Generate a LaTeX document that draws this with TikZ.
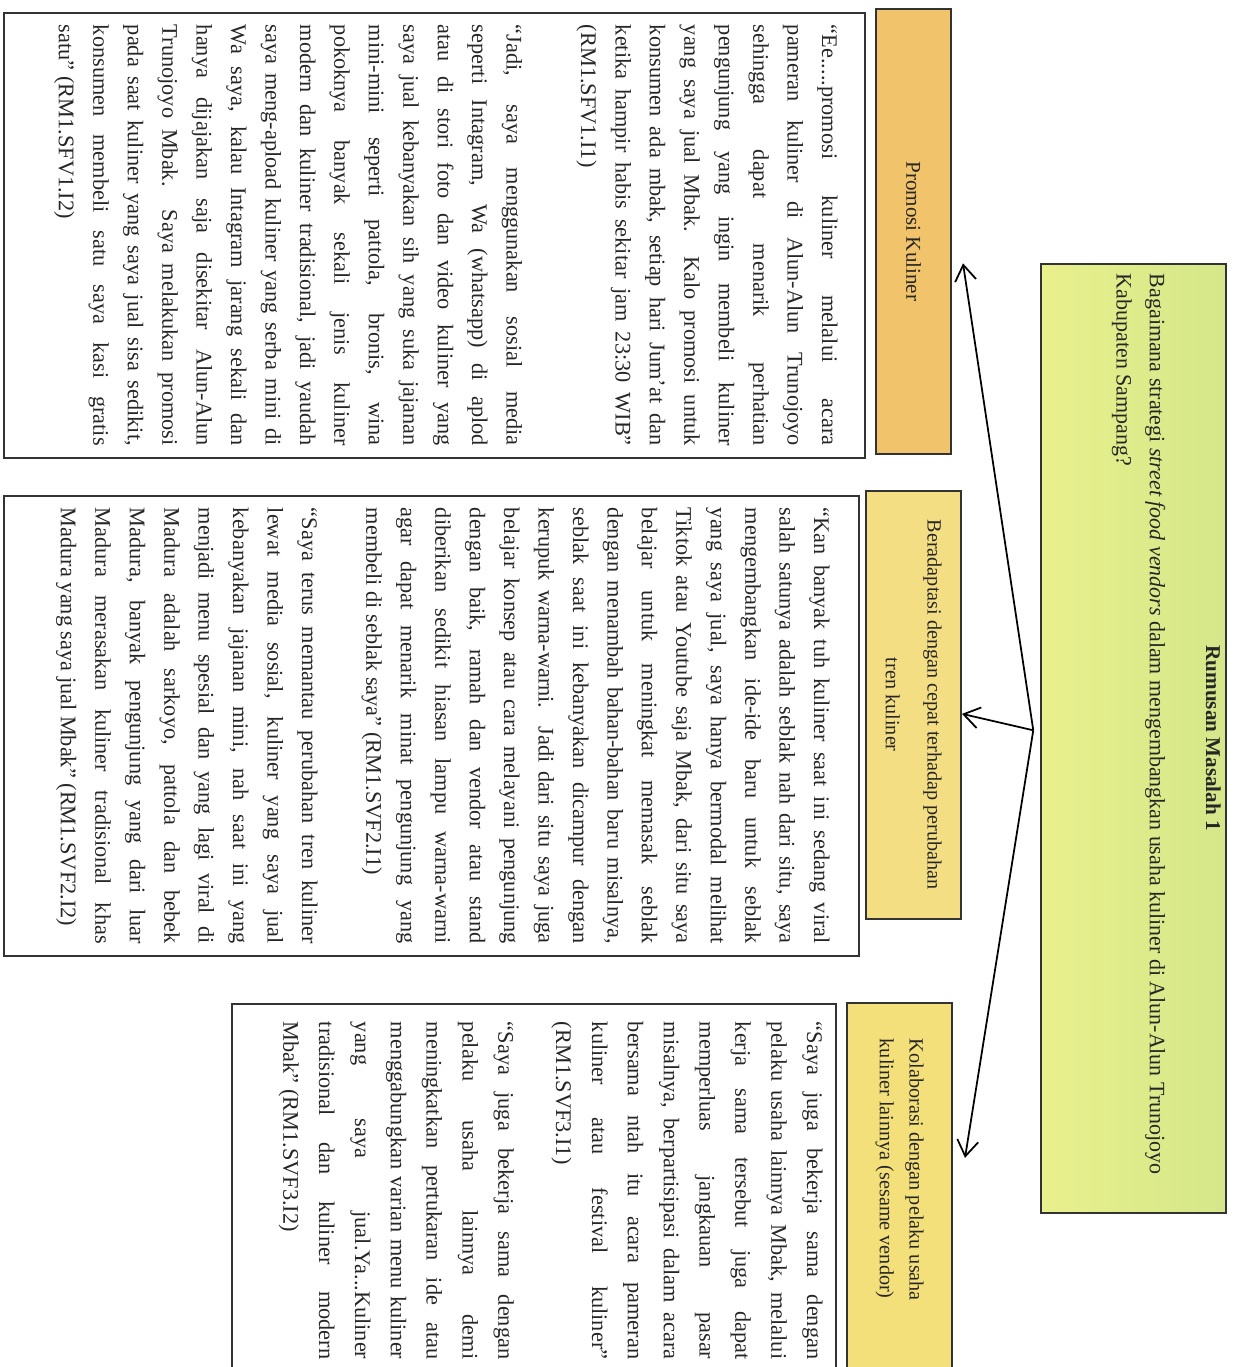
\documentclass[tikz,border=0pt]{standalone}
\usepackage{fontspec}
\setmainfont{Liberation Serif}
\usetikzlibrary{arrows.meta,calc}
\definecolor{hijau}{HTML}{D4E78A}
\definecolor{hijaumuda}{HTML}{E9F08C}
\definecolor{jingga}{HTML}{F1C46C}
\definecolor{kuning}{HTML}{F4DE84}
\definecolor{kuningtua}{HTML}{F3E07A}
\setlength\parindent{0pt}
\newcommand\jl[1]{\makebox[\linewidth][s]{\spaceskip=0pt\xspaceskip=0pt #1}\\}

\begin{document}
\begin{tikzpicture}[x=0.02cm,y=0.02cm,
  kotak/.style={draw=black!80,line width=1pt,anchor=north west,inner xsep=0.24cm,text=black!85},
  kutip/.style={kotak,fill=white,align=justify,text height=0.32cm,font=\fontsize{12.7}{19.6}\selectfont},
  judul/.style={kotak,align=center,font=\fontsize{11.5}{17}\selectfont},
  panah/.style={line width=1pt,-{Straight Barb[length=9pt,width=12pt]}}]
\begin{scope}[rotate=-90,transform shape]
\path[fill=white,use as bounding box] (0,0) rectangle (1367,1252);

\node[kotak,left color=hijaumuda,right color=hijau,text width=18.58cm,inner xsep=0.2cm,inner ysep=0.08cm,text height=0.32cm,text depth=3.22cm,align=justify,font=\fontsize{12.5}{19}\selectfont] (masalah) at (263,1227)
{\makebox[\linewidth]{\fontsize{12}{19}\selectfont\bfseries Rumusan Masalah 1}\\[13pt]
Bagaimana strategi \textit{street food vendors} dalam mengembangkan usaha kuliner di Alun-Alun Trunojoyo\\
Kabupaten Sampang?};

\node[judul,fill=jingga,minimum width=8.9cm,minimum height=1.5cm,font=\fontsize{12}{17}\selectfont] (promosi) at (8,952) {Promosi Kuliner};
\node[judul,fill=kuning,minimum width=8.56cm,minimum height=1.9cm,font=\fontsize{11.5}{23.8}\selectfont] (adaptasi) at (490,962) {Beradaptasi dengan cepat terhadap perubahan\\tren kuliner};
\node[judul,fill=kuningtua,align=justify,text width=6.12cm,inner xsep=0.72cm,minimum height=2.1cm] (kolaborasi) at (1002,953) {Kolaborasi dengan pelaku usaha\\kuliner lainnya (sesame vendor)};

\node[kutip,text width=8.42cm,inner ysep=0.54cm,text depth=15.82cm] (kutip1) at (12,866) {%
\jl{“Ee.....promosi kuliner melalui acara}
\jl{pameran kuliner di Alun-Alun Trunojoyo}
\jl{sehingga dapat menarik perhatian}
\jl{pengunjung yang ingin membeli kuliner}
\jl{yang saya jual Mbak. Kalo promosi untuk}
\jl{konsumen ada mbak, setiap hari Jum’at dan}
\jl{ketika hampir habis sekitar jam 23:30 WIB”}
(RM1.SFV1.I1)\\[0.8cm]
\jl{“Jadi, saya menggunakan sosial media}
\jl{seperti Intagram, Wa (whatsapp) di aplod}
\jl{atau di stori foto dan video kuliner yang}
\jl{saya jual kebanyakan sih yang suka jajanan}
\jl{mini-mini seperti pattola, bronis, wina}
\jl{pokoknya banyak sekali jenis kuliner}
\jl{modern dan kuliner tradisional, jadi yaudah}
\jl{saya meng-apload kuliner yang serba mini di}
\jl{Wa saya, kalau Intagram jarang sekali dan}
\jl{hanya dijajakan saja disekitar Alun-Alun}
\jl{Trunojoyo Mbak. Saya melakukan promosi}
\jl{pada saat kuliner yang saya jual sisa sedikit,}
\jl{konsumen membeli satu saya kasi gratis}
satu” (RM1.SFV1.I2)};

\node[kutip,text width=8.72cm,inner ysep=0.58cm,text depth=15.62cm] (kutip2) at (495,860) {%
\jl{“Kan banyak tuh kuliner saat ini sedang viral}
\jl{salah satunya adalah seblak nah dari situ, saya}
\jl{mengembangkan ide-ide baru untuk seblak}
\jl{yang saya jual, saya hanya bermodal melihat}
\jl{Tiktok atau Youtube saja Mbak, dari situ saya}
\jl{belajar untuk meningkat memasak seblak}
\jl{dengan menambah bahan-bahan baru misalnya,}
\jl{seblak saat ini kebanyakan dicampur dengan}
\jl{kerupuk warna-warni. Jadi dari situ saya juga}
\jl{belajar konsep atau cara melayani pengunjung}
\jl{dengan baik, ramah dan vendor atau stand}
\jl{diberikan sedikit hiasan lampu warna-warni}
\jl{agar dapat menarik minat pengunjung yang}
membeli di seblak saya” (RM1.SVF2.I1)\\[0.6cm]
\jl{“Saya terus memantau perubahan tren kuliner}
\jl{lewat media sosial, kuliner yang saya jual}
\jl{kebanyakan jajanan mini, nah saat ini yang}
\jl{menjadi menu spesial dan yang lagi viral di}
\jl{Madura adalah sarkoyo, pattola dan bebek}
\jl{Madura, banyak pengunjung yang dari luar}
\jl{Madura merasakan kuliner tradisional khas}
Madura yang saya jual Mbak” (RM1.SVF2.I2)};

\node[kutip,text width=6.75cm,inner xsep=0.36cm,inner ysep=0.26cm,text depth=11.24cm,font=\fontsize{12.7}{20.4}\selectfont] (kutip3) at (1003,837) {%
\jl{“Saya juga bekerja sama dengan}
\jl{pelaku usaha lainnya Mbak, melalui}
\jl{kerja sama tersebut juga dapat}
\jl{memperluas jangkauan pasar}
\jl{misalnya, berpartisipasi dalam acara}
\jl{bersama ntah itu acara pameran}
\jl{kuliner atau festival kuliner”}
(RM1.SVF3.I1)\\[0.44cm]
\jl{“Saya juga bekerja sama dengan}
\jl{pelaku usaha lainnya demi}
\jl{meningkatkan pertukaran ide atau}
\jl{menggabungkan varian menu kuliner}
\jl{yang saya jual.Ya...Kuliner}
\jl{tradisional dan kuliner modern}
Mbak” (RM1.SVF3.I2)};

\coordinate (pusat) at ($(masalah.south)+(-8,-7)$);
\draw[panah] (pusat) -- ($(promosi.north)+(32,11)$);
\draw[panah] (pusat) -- ($(adaptasi.north)+(9,0)$);
\draw[panah] (pusat) -- ($(kolaborasi.north)+(-34,12)$);
\end{scope}
\end{tikzpicture}
\end{document}
